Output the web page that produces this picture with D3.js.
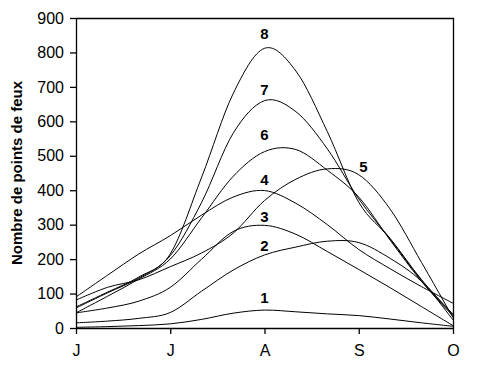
<!DOCTYPE html>
<html><head><meta charset="utf-8">
<script src="https://cdn.jsdelivr.net/npm/d3@7"></script>
<style>
html,body{margin:0;padding:0;background:#fff;}
svg{display:block;}
text{font-family:Arial,"Liberation Sans",sans-serif;}
</style></head>
<body><div id="chart"></div>
<script>
// Month labels (June..October) and the positions of the data points in month units (decades)
const monthLabels = ["J", "J", "A", "S", "O"];
const periods = [0, 1/3, 2/3, 1, 4/3, 5/3, 2, 7/3, 8/3, 3, 10/3, 11/3, 4];
const yTicks = [0, 100, 200, 300, 400, 500, 600, 700, 800, 900];

const s1 = [2, 4, 7, 12, 25, 43, 52, 47, 41, 36, 26, 15, 5];
const s2 = [15, 20, 28, 45, 107, 168, 212, 235, 252, 248, 202, 135, 23];
const s3 = [44, 58, 78, 118, 200, 280, 298, 272, 222, 170, 117, 62, 7];
const s4 = [90, 153, 215, 268, 328, 380, 399, 362, 300, 228, 172, 120, 72];
const s5 = [81, 118, 140, 178, 218, 275, 370, 432, 462, 445, 345, 190, 30];
const s6 = [44, 92, 142, 200, 320, 440, 512, 518, 458, 380, 255, 135, 35];
const s7 = [58, 102, 145, 210, 365, 565, 660, 628, 520, 375, 258, 138, 38];
const s8 = [61, 104, 148, 215, 438, 680, 812, 746, 570, 365, 260, 140, 40];

const seriesNames = ["1", "2", "3", "4", "5", "6", "7", "8"];
const seriesValues = [s1, s2, s3, s4, s5, s6, s7, s8];
// label anchor (month position, value) for each series
const labelPos = [[2.0, 88], [2.0, 240], [2.0, 325], [2.0, 432], [3.05, 468], [2.0, 561], [2.0, 692], [2.0, 855]];

const W = 485, H = 377;
const x = d3.scaleLinear().domain([0, 4]).range([76, 453]);
const y = d3.scaleLinear().domain([0, 900]).range([328, 18]);

const svg = d3.select("#chart").append("svg").attr("width", W).attr("height", H);

// frame (top + right)
svg.append("path")
  .attr("d", `M${x(0)},${y(900)+0.5}H${x(4)+0.5}V${y(0)}`)
  .attr("fill", "none").attr("stroke", "#000").attr("stroke-width", 1.3);

// y axis
const yAxis = svg.append("g").attr("transform", `translate(${x(0)},0)`)
  .call(d3.axisLeft(y).tickValues(yTicks).tickSize(6).tickSizeOuter(0).tickPadding(6));
// x axis
const xAxis = svg.append("g").attr("transform", `translate(0,${y(0)})`)
  .call(d3.axisBottom(x).tickValues([0, 1, 2, 3, 4]).tickFormat((d, i) => monthLabels[i])
    .tickSize(6).tickSizeOuter(0).tickPadding(11));
[yAxis, xAxis].forEach(g => {
  g.select(".domain").attr("stroke", "#000").attr("stroke-width", 1.3);
  g.selectAll(".tick line").attr("stroke", "#000").attr("stroke-width", 1.3);
  g.selectAll(".tick text").attr("font-size", 16).attr("fill", "#000")
    .attr("font-family", "Arial, 'Liberation Sans', sans-serif");
});

// y axis title
svg.append("text")
  .attr("transform", `translate(22,${(y(0)+y(900))/2}) rotate(-90)`)
  .attr("text-anchor", "middle")
  .attr("font-size", 15).attr("font-weight", "bold")
  .text("Nombre de points de feux");

// curves
const line = d3.line().x((d, i) => x(periods[i])).y(d => y(d)).curve(d3.curveCardinal.tension(0));
svg.append("g").selectAll("path").data(seriesValues).join("path")
  .attr("d", d => line(d)).attr("fill", "none").attr("stroke", "#000").attr("stroke-width", 1);

// labels
svg.append("g").selectAll("text").data(seriesNames).join("text")
  .attr("x", (d, i) => x(labelPos[i][0]))
  .attr("y", (d, i) => y(labelPos[i][1]))
  .attr("text-anchor", "middle").attr("dominant-baseline", "central")
  .attr("font-size", 15).attr("font-weight", "bold")
  .text(d => d);
</script></body></html>
